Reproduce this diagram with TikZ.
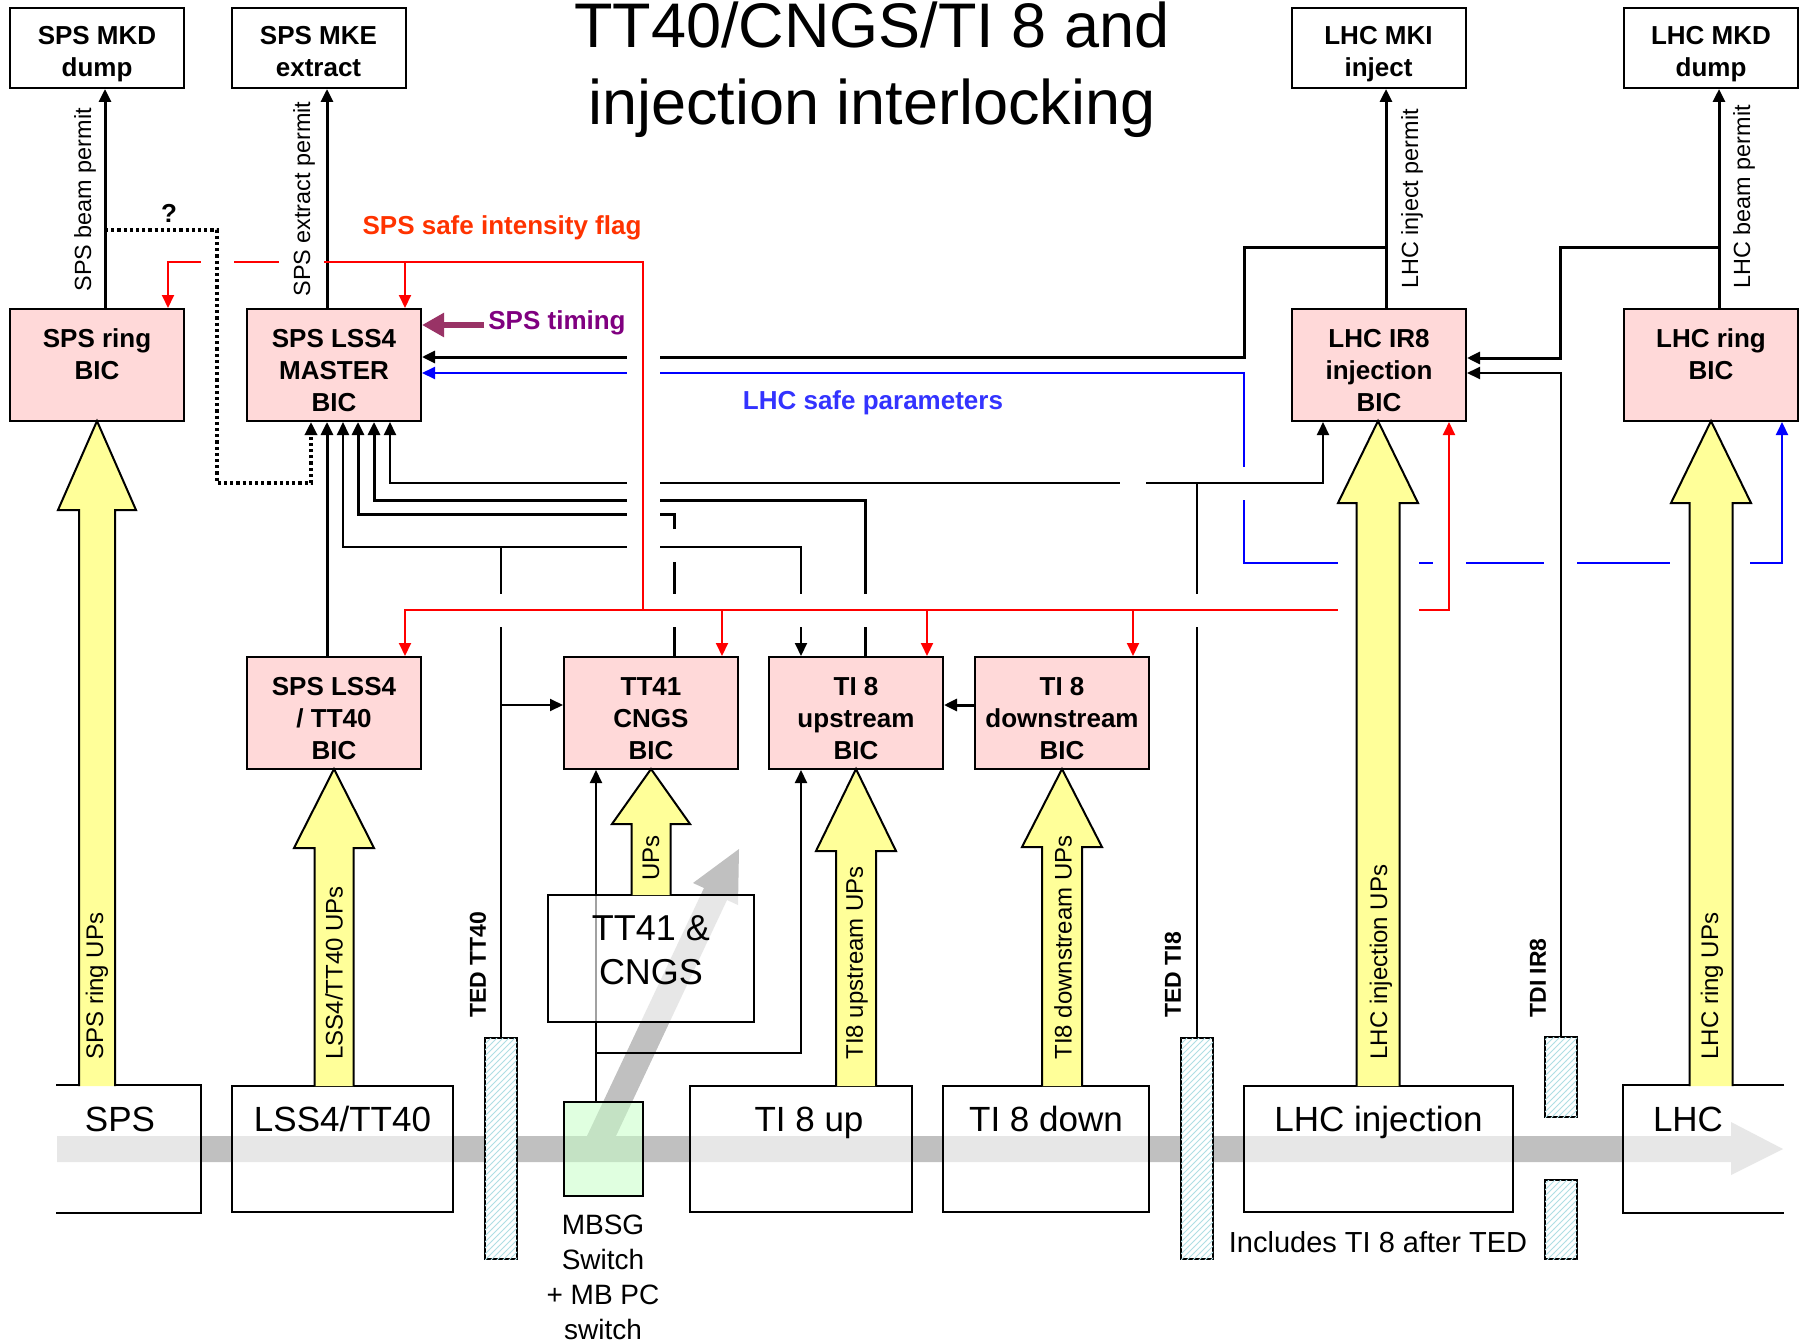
\documentclass[tikz,border=0pt]{standalone}
\usepackage{fontspec}
\setmainfont{Liberation Sans}
\usepackage{xcolor}
\usepackage{tikz}
\usetikzlibrary{arrows.meta, calc, patterns}

\definecolor{bicpink}{RGB}{255,217,217}
\definecolor{upsyellow}{RGB}{255,255,153}
\definecolor{flagred}{RGB}{255,0,0}
\definecolor{flagtext}{RGB}{255,51,0}
\definecolor{timingtext}{RGB}{128,0,128}
\definecolor{timingarrow}{RGB}{153,51,102}
\definecolor{safeblue}{RGB}{0,0,255}
\definecolor{safetext}{RGB}{51,51,255}
\definecolor{beamgrey}{RGB}{192,192,192}
\definecolor{switchgreen}{RGB}{200,255,200}
\definecolor{tedhatch}{RGB}{175,222,228}

\pgfdeclarelayer{background}
\pgfsetlayers{background,main}

% yellow UP arrow: centre x, tip y, head base y, foot y, half shaft, half head
\newcommand{\upsarrow}[6]{%
  \filldraw[ups] ({#1-#5},#4) -- ({#1-#5},#3) -- ({#1-#6},#3) -- (#1,#2)
    -- ({#1+#6},#3) -- ({#1+#5},#3) -- ({#1+#5},#4);}
\newcommand{\devtop}{\rule{0pt}{15.4pt}}
\newcommand{\bictop}{\rule{0pt}{14.4pt}}

\begin{document}
\begin{tikzpicture}[x=0.5pt, y=-0.5pt,
  >={Triangle[length=6.5pt,width=6pt]},
  devbox/.style={rectangle, draw, line width=1pt, fill=white, minimum width=87pt, minimum height=40pt, inner sep=0pt, align=center, font=\fontsize{13}{16}\selectfont\bfseries},
  bic/.style={devbox, fill=bicpink, minimum height=56pt},
  areabox/.style={rectangle, draw, line width=1pt, fill=white, fill opacity=0.63, text opacity=1, inner sep=0pt, align=center},
  sector/.style={areabox, minimum height=63pt, text height=12.5pt, text depth=30pt, font=\fontsize{17.5}{21}\selectfont},
  ted/.style={rectangle, draw, line width=1pt, fill=white, postaction={pattern=north east lines, pattern color=tedhatch}, minimum width=16pt, inner sep=0pt},
  ups/.style={draw, line width=1pt, fill=upsyellow},
  upslabel/.style={rotate=90, anchor=west, inner sep=0pt, font=\fontsize{12}{14}\selectfont},
  vlabel/.style={rotate=90, anchor=west, inner sep=0pt, font=\fontsize{11.7}{14}\selectfont},
  tedlabel/.style={rotate=90, anchor=west, inner sep=0pt, font=\fontsize{11.5}{14}\selectfont\bfseries},
  tag/.style={inner sep=0pt, font=\fontsize{13}{16}\selectfont\bfseries},
  thinline/.style={line width=1pt},
  thickline/.style={line width=1.5pt},
  permit/.style={thickline, ->},
  flag/.style={line width=1pt, flagred},
  safe/.style={line width=1pt, safeblue},
  maybe/.style={line width=1.6pt, dash pattern=on 1.6pt off 1.5pt},
  timing/.style={line width=3.3pt, timingarrow, -{Triangle[length=11pt,width=11.5pt]}},
  bridge/.style={draw=white, line width=16.5pt},
  beam/.style={fill=beamgrey}
]
\useasboundingbox (0,0) rectangle (1804,1343);

\begin{pgfonlayer}{background}
  \fill[white] (0,0) rectangle (1804,1343);
  \fill[beam] (57,1136) -- (1731,1136) -- (1731,1122) -- (1783,1149) -- (1731,1175) -- (1731,1162) -- (57,1162) -- cycle;
  \fill[beam] (587,1136) -- (704,888) -- (693,883) -- (739,849) -- (738,905) -- (727,900) -- (616,1136) -- cycle;
\end{pgfonlayer}

\node[devbox] (spsmkd) at (97,48) {\devtop SPS MKD\\dump};
\node[devbox] (spsmke) at (318.5,48) {\devtop SPS MKE\\extract\rule[-2.7pt]{0pt}{0pt}};
\node[devbox] (lhcmki) at (1378.5,48) {\devtop LHC MKI\\inject};
\node[devbox] (lhcmkd) at (1711,48) {\devtop LHC MKD\\dump};

\node[bic] (spsring) at (97,365) {\bictop SPS ring\\BIC\\\mbox{}};
\node[bic] (master) at (334,365) {\bictop SPS LSS4\\MASTER\\BIC};
\node[bic] (ir8) at (1379,365) {\bictop LHC IR8\\injection\\BIC};
\node[bic] (lhcring) at (1711,365) {\bictop LHC ring\\BIC\\\mbox{}};

\node[bic] (lss4bic) at (334,713) {\bictop SPS LSS4\\/ TT40\\BIC};
\node[bic] (cngsbic) at (651,713) {\bictop TT41\\CNGS\\BIC};
\node[bic] (upbic) at (856,713) {\bictop TI 8\\upstream\\BIC};
\node[bic] (downbic) at (1062,713) {\bictop TI 8\\downstream\\BIC};

\node[sector, draw=none, minimum width=71.5pt] (spsbox) at (128.5,1149) {SPS\hspace*{8.5pt}};
\node[sector, minimum width=110.5pt] (lssbox) at (342.5,1149) {LSS4/TT40};
\node[sector, minimum width=111pt] (upbox) at (801,1149) {\hspace*{8pt}TI 8 up};
\node[sector, minimum width=103pt] (downbox) at (1046,1149) {TI 8 down};
\node[sector, minimum width=134.5pt] (injbox) at (1378.5,1149) {LHC injection};
\node[sector, draw=none, minimum width=79.5pt] (lhcbox) at (1703.5,1149) {LHC\hspace*{15.5pt}};
\draw[thinline] (spsbox.north west) -- (spsbox.north east) -- (spsbox.south east) -- (spsbox.south west);
\draw[thinline] (lhcbox.north east) -- (lhcbox.north west) -- (lhcbox.south west) -- (lhcbox.south east);

\node[areabox, minimum width=103pt, minimum height=63.5pt, font=\fontsize{18}{22}\selectfont] (cngsbox) at (651,958.5) {TT41 \&\\CNGS\rule[-8pt]{0pt}{8pt}};
\node[rectangle, draw, line width=1pt, fill=switchgreen, fill opacity=0.55, minimum width=39.5pt, minimum height=47pt] (mbsg) at (603.5,1149) {};
\node[align=center, inner sep=0pt, font=\fontsize{14}{17.5}\selectfont] (mbsgtext) at (603,1277) {MBSG\\Switch\\+ MB PC\\switch};

\node[ted, minimum height=110.5pt] (tedtt40) at (501,1148.5) {};
\node[ted, minimum height=110.5pt] (tedti8) at (1197,1148.5) {};
\node[ted, minimum height=40pt] (tdiup) at (1561,1077) {};
\node[ted, minimum height=39.5pt] (tdidown) at (1561,1219.5) {};

\coordinate (beamtap) at (105,230);
\coordinate (injtap) at (1386,247);
\coordinate (ringtap) at (1719,247);
\coordinate (ti8tap) at (1197,483);
\coordinate (tt40tap) at (501,547);
\coordinate (tt40side) at (501,705);
\coordinate (switchtap) at (596,1053);
\coordinate (timingsrc) at (484,325);
\coordinate (flagcorner) at (643,262);
\coordinate (flagdrop) at (643,610);
\coordinate (extractfoot) at ([xshift=-3.5pt]master.north);
\coordinate (injectfoot) at ([xshift=3.5pt]ir8.north);
\foreach \b in {spsring, master, lss4bic, cngsbic, upbic, downbic}
  \coordinate (fl\b) at ([xshift=35.5pt]\b.north);

\draw[safe, <->] ([yshift=-4pt]master.east) -| (1244,563) -| ([xshift=35.5pt]lhcring.south);
\draw[bridge] (1232,483) -- (1256,483);
\draw[bridge] (1449,553) -- (1449,573);
\draw[bridge] (1560,553) -- (1560,573);

\draw[permit] ([xshift=4pt]spsring.north) -- ([xshift=4pt]spsmkd.south);
\draw[permit] (extractfoot) -- (extractfoot |- spsmke.south);
\draw[permit] (injectfoot) -- (injectfoot |- lhcmki.south);
\draw[permit] ([xshift=4pt]lhcring.north) -- ([xshift=4pt]lhcmkd.south);

\draw[thickline, ->] (injtap) -| (1244,357) -- ([yshift=4pt]master.east);
\draw[thickline, ->] (ringtap) -| (1560,358) -- ([yshift=3.5pt]ir8.east);
\draw[thinline, ->] (tdiup.north) |- ([yshift=-4pt]ir8.east);
\draw[thinline, <->] ([xshift=28pt]master.south) |- (ti8tap) -| ([xshift=-28pt]ir8.south);
\draw[thinline] (tedti8.north) -- (ti8tap);
\draw[draw=white, line width=3pt] (1120,483) -- (1146,483);
\draw[thickline, <-] ([xshift=20pt]master.south) -- ++(0,78) -| ([xshift=4.5pt]upbic.north);
\draw[thickline, dash pattern=on 47pt off 16.5pt on 400pt, ->] ([xshift=11.5pt]cngsbic.north) -- ++(0,-142) -| ([xshift=12pt]master.south);
\draw[thinline, <->] ([xshift=4.5pt]master.south) |- (tt40tap) -| ([xshift=-27.5pt]upbic.north);
\draw[thinline] (tedtt40.north) -- (tt40tap);
\draw[thinline, ->] (tt40side) -- ([yshift=4pt]cngsbic.west);
\draw[thickline, ->] ([xshift=-3.5pt]lss4bic.north) -- ([xshift=-3.5pt]master.south);
\draw[thickline, ->] ([yshift=4pt]downbic.west) -- ([yshift=4pt]upbic.east);
\draw[thinline, ->] (switchtap) -| ([xshift=-27.5pt]upbic.south);
\begin{pgfonlayer}{background}
  \draw[thinline, ->] ([xshift=-3.75pt]mbsg.north) -- ([xshift=-27.5pt]cngsbic.south);
\end{pgfonlayer}

\draw[bridge] (643,345) -- (643,555);
\draw[bridge] (485,610) -- (1215,610);

\draw[flag, ->] (flagdrop) -- (flagcorner) -| (flspsring);
\draw[flag, ->] (flmaster |- flagcorner) -- (flmaster);
\draw[flag, ->] (flagdrop) -| (fllss4bic);
\draw[flag, ->] (flagdrop) -| ([xshift=35pt]ir8.south);
\foreach \b in {cngsbic, upbic, downbic}
  \draw[flag, ->] (fl\b |- flagdrop) -- (fl\b);

\draw[bridge] (217,252) -- (217,272);
\draw[draw=white, line width=3pt] (279,262) -- (324,262);
\draw[maybe, ->] (beamtap) -| (217,483) -| ([xshift=-11.5pt]master.south);
\draw[timing] (timingsrc) -- ([yshift=20pt]master.east);

\draw[bridge, line width=40.5pt] (1378.5,540) -- (1378.5,630);
\draw[bridge, line width=40pt] (1710,548) -- (1710,578);
\upsarrow{97}{421}{510}{1086}{18}{39}
\upsarrow{334}{769}{848}{1086}{19.5}{40}
\upsarrow{651}{769}{824}{895}{19.5}{39}
\upsarrow{856}{769}{851}{1086}{20}{40}
\upsarrow{1062}{769}{847}{1086}{20}{40}
\upsarrow{1378}{421}{503}{1086}{21.5}{40}
\upsarrow{1711}{421}{503}{1086}{21.5}{40}

\node[font=\fontsize{31.5}{38.5}\selectfont, align=center, inner sep=0pt] (title) at (872,70) {TT40/CNGS/TI 8 and\\injection interlocking};
\node[vlabel] (beamlbl) at (85,292) {SPS beam permit};
\node[vlabel] (extractlbl) at (304,297) {SPS extract permit};
\node[vlabel] (injectlbl) at (1412,289) {LHC inject permit};
\node[vlabel] (ringlbl) at (1744,289) {LHC beam permit};
\node[tag] (qmark) at (169,213) {?};
\node[tag, text=flagtext] (flaglbl) at (502,228) {SPS safe intensity flag};
\node[tag, text=timingtext] (timinglbl) at (557,323) {SPS timing};
\node[tag, text=safetext] (safelbl) at (873,403) {LHC safe parameters};

\node[upslabel] (ringups) at (97,1060) {SPS ring UPs};
\node[upslabel] (lssups) at (334,1060) {LSS4/TT40 UPs};
\node[upslabel, anchor=center] (cngsups) at (651,858) {UPs};
\node[upslabel] (upups) at (857,1060) {TI8 upstream UPs};
\node[upslabel] (downups) at (1063,1060) {TI8 downstream UPs};
\node[upslabel] (injups) at (1381,1060) {LHC injection UPs};
\node[upslabel] (lhcups) at (1712,1060) {LHC ring UPs};

\node[tedlabel] (tt40lbl) at (478,1018) {TED TT40};
\node[tedlabel] (ti8lbl) at (1173,1018) {TED TI8};
\node[tedlabel] (tdilbl) at (1538,1018) {TDI IR8};
\node[inner sep=0pt, font=\fontsize{14.5}{17}\selectfont] (includes) at (1378,1242) {Includes TI 8 after TED};
\end{tikzpicture}
\end{document}
